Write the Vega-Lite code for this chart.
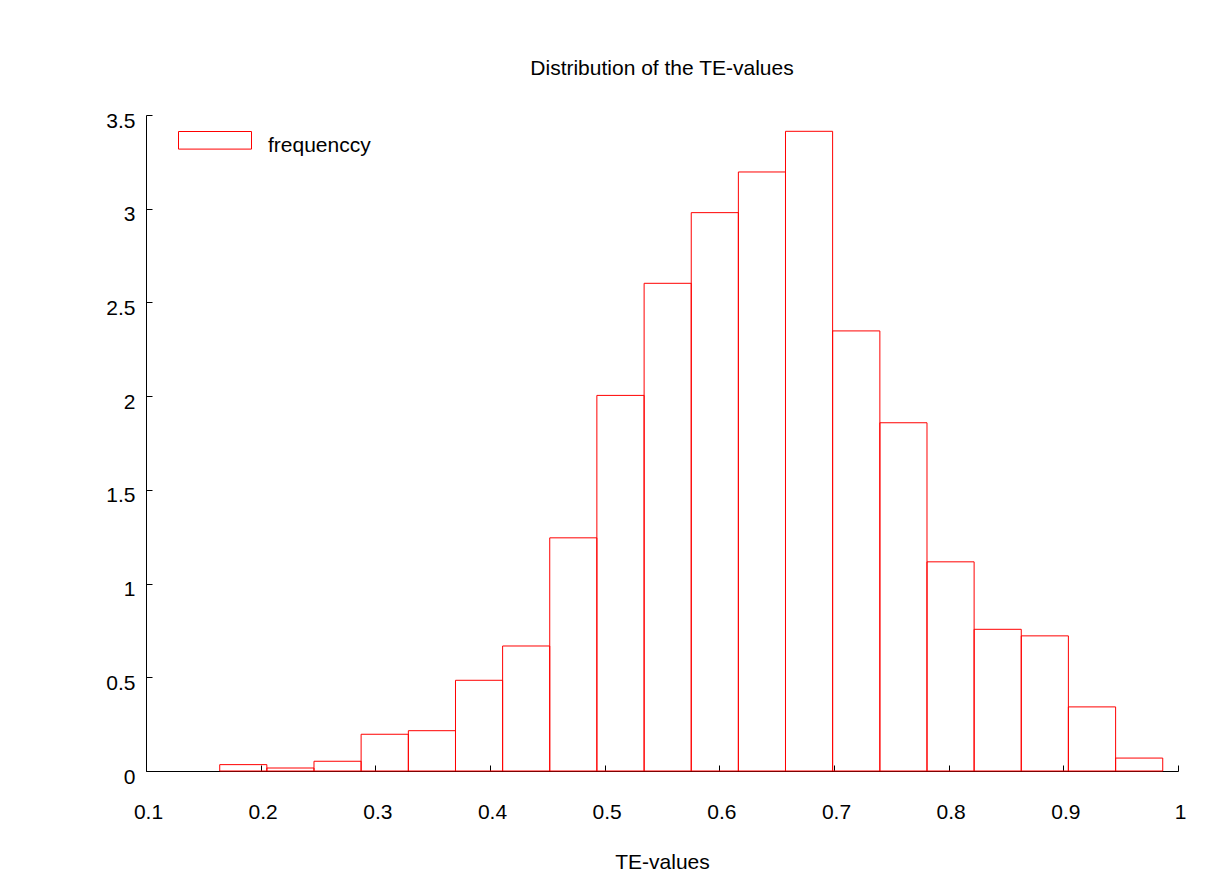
{
  "$schema": "https://vega.github.io/schema/vega-lite/v6.json",
  "autosize": "none",
  "width": 1032,
  "height": 656,
  "padding": {"left": 146, "top": 115, "right": 36, "bottom": 108},
  "background": "white",
  "title": {
    "text": "Distribution of the TE-values",
    "font": "Liberation Sans",
    "fontSize": 21,
    "fontWeight": "normal",
    "color": "black",
    "anchor": "middle",
    "frame": "group",
    "baseline": "alphabetic",
    "offset": 13
  },
  "data": {
    "values": [
      {"lo": 0.1643, "hi": 0.2054, "density": 0.034},
      {"lo": 0.2054, "hi": 0.2465, "density": 0.016},
      {"lo": 0.2465, "hi": 0.2876, "density": 0.052},
      {"lo": 0.2876, "hi": 0.3288, "density": 0.196},
      {"lo": 0.3288, "hi": 0.3699, "density": 0.215},
      {"lo": 0.3699, "hi": 0.4110, "density": 0.484},
      {"lo": 0.4110, "hi": 0.4521, "density": 0.667},
      {"lo": 0.4521, "hi": 0.4932, "density": 1.244},
      {"lo": 0.4932, "hi": 0.5344, "density": 2.004},
      {"lo": 0.5344, "hi": 0.5755, "density": 2.602},
      {"lo": 0.5755, "hi": 0.6166, "density": 2.979},
      {"lo": 0.6166, "hi": 0.6577, "density": 3.196},
      {"lo": 0.6577, "hi": 0.6988, "density": 3.413},
      {"lo": 0.6988, "hi": 0.7400, "density": 2.348},
      {"lo": 0.7400, "hi": 0.7811, "density": 1.858},
      {"lo": 0.7811, "hi": 0.8222, "density": 1.116},
      {"lo": 0.8222, "hi": 0.8633, "density": 0.756},
      {"lo": 0.8633, "hi": 0.9044, "density": 0.721},
      {"lo": 0.9044, "hi": 0.9456, "density": 0.342},
      {"lo": 0.9456, "hi": 0.9867, "density": 0.069}
    ]
  },
  "mark": {"type": "bar", "filled": false, "strokeWidth": 1},
  "encoding": {
    "x": {
      "field": "lo",
      "type": "quantitative",
      "scale": {"domain": [0.1, 1], "nice": false, "zero": false},
      "axis": {
        "title": "TE-values",
        "values": [0.1, 0.2, 0.3, 0.4, 0.5, 0.6, 0.7, 0.8, 0.9, 1],
        "format": "~g",
        "grid": false,
        "tickSize": -6,
        "labelPadding": 36,
        "labelOffset": 2,
        "titlePadding": 29,
        "labelFlush": false,
        "labelOverlap": false
      }
    },
    "x2": {"field": "hi"},
    "y": {
      "field": "density",
      "type": "quantitative",
      "scale": {"domain": [0, 3.5], "nice": false},
      "axis": {
        "title": null,
        "values": [0, 0.5, 1, 1.5, 2, 2.5, 3, 3.5],
        "format": "~g",
        "grid": false,
        "tickSize": -6,
        "labelPadding": 17,
        "labelOffset": 6,
        "labelBaseline": "middle",
        "labelFlush": false,
        "labelOverlap": false
      }
    },
    "y2": {"datum": 0},
    "stroke": {
      "datum": "frequenccy",
      "type": "nominal",
      "scale": {"range": ["#ff0000"]},
      "legend": {
        "title": null,
        "orient": "none",
        "legendX": 32,
        "legendY": -6,
        "padding": 0,
        "symbolType": "M-1,-0.397H1V0.085H-1Z",
        "symbolSize": 5329,
        "symbolStrokeWidth": 1,
        "symbolFillColor": "transparent",
        "labelOffset": 16,
        "labelFont": "Liberation Sans",
        "labelFontSize": 21,
        "labelColor": "black"
      }
    }
  },
  "config": {
    "view": {"stroke": null},
    "axis": {
      "domainColor": "black",
      "tickColor": "black",
      "domainWidth": 1,
      "tickWidth": 1,
      "labelFont": "Liberation Sans",
      "labelFontSize": 21,
      "labelColor": "black",
      "titleFont": "Liberation Sans",
      "titleFontSize": 21,
      "titleFontWeight": "normal",
      "titleColor": "black"
    }
  }
}
